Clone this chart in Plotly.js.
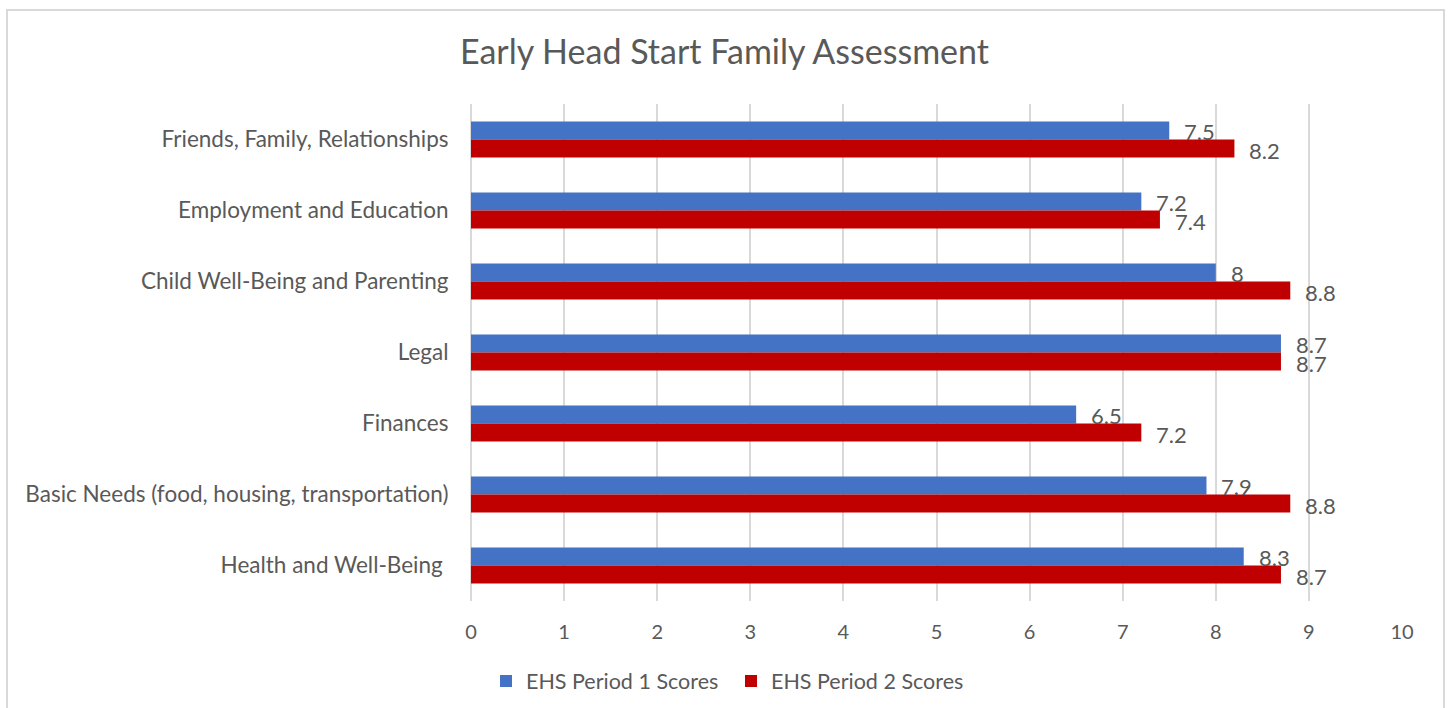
<!DOCTYPE html>
<html>
<head>
<meta charset="utf-8">
<script src="https://cdn.plot.ly/plotly-3.0.1.min.js"></script>
<style>html,body{margin:0;padding:0;background:#fff;}#chart{width:1449px;height:708px;}</style>
</head>
<body>
<div id="chart"></div>
<script>
// Categories, top to bottom as drawn
const categories = [
  "Friends, Family, Relationships",
  "Employment and Education",
  "Child Well-Being and Parenting",
  "Legal",
  "Finances",
  "Basic Needs (food, housing, transportation)",
  "Health and Well-Being "
];
const period1 = [7.5, 7.2, 8.0, 8.7, 6.5, 7.9, 8.3];
const period2 = [8.2, 7.4, 8.8, 8.7, 7.2, 8.8, 8.7];
const seriesNames = ["EHS Period 1 Scores", "EHS Period 2 Scores"];
const xTicks = [0, 1, 2, 3, 4, 5, 6, 7, 8, 9, 10];

const FONT = "Lato, 'Open Sans', sans-serif";
const TXT = "#595959";
const BLUE = "#4472C4";
const RED = "#C00000";

const W = 1449, H = 708;
const M = {l: 471, r: 47, t: 104, b: 107, autoexpand: false};
const pw = W - M.l - M.r, ph = H - M.t - M.b;
const px2x = p => (p - M.l) / pw;
const px2y = p => (H - M.b - p) / ph;

const traces = [
  {type: "bar", orientation: "h", name: seriesNames[0], y: categories, x: period1,
   marker: {color: BLUE}, hoverinfo: "x+name"},
  {type: "bar", orientation: "h", name: seriesNames[1], y: categories, x: period2,
   marker: {color: RED}, hoverinfo: "x+name"}
];

const annotations = [];
categories.forEach((c, i) => {
  annotations.push({x: period1[i], y: c, xref: "x", yref: "y", text: String(period1[i]),
    showarrow: false, xanchor: "left", yanchor: "middle", xshift: 13, yshift: 8,
    font: {family: FONT, size: 22, color: TXT}});
  annotations.push({x: period2[i], y: c, xref: "x", yref: "y", text: String(period2[i]),
    showarrow: false, xanchor: "left", yanchor: "middle", xshift: 13, yshift: -11,
    font: {family: FONT, size: 22, color: TXT}});
});

const layout = {
  width: W, height: H,
  margin: M,
  paper_bgcolor: "#ffffff", plot_bgcolor: "#ffffff",
  font: {family: FONT, color: TXT, size: 22},
  title: {text: "Early Head Start Family Assessment", x: 0.5, xanchor: "center",
          xref: "container", yref: "container", y: 1 - 52 / H, yanchor: "middle",
          font: {family: FONT, size: 34, color: TXT}},
  barmode: "group",
  bargap: 0.49,
  bargroupgap: 0,
  xaxis: {range: [0, 10], tickvals: xTicks, ticktext: xTicks.map(String), automargin: false,
          showgrid: true, gridcolor: "#d9d9d9", gridwidth: 1.5,
          zeroline: true, zerolinecolor: "#d9d9d9", zerolinewidth: 1.5,
          showline: false, ticks: "outside", ticklen: 13, tickcolor: "rgba(0,0,0,0)",
          tickfont: {family: FONT, size: 20, color: TXT}, fixedrange: true},
  yaxis: {type: "category", autorange: "reversed", showgrid: false, zeroline: false, automargin: false,
          showline: false, ticks: "outside", ticklen: 17, tickcolor: "rgba(0,0,0,0)",
          tickfont: {family: FONT, size: 22.5, color: TXT}, fixedrange: true},
  showlegend: true,
  legend: {orientation: "h", x: px2x(731), xanchor: "center", y: px2y(681), yanchor: "middle",
           font: {family: FONT, size: 21.5, color: TXT}, bgcolor: "rgba(0,0,0,0)",
           traceorder: "normal", itemwidth: 30, entrywidth: 200, entrywidthmode: "pixels"},
  annotations: annotations,
  shapes: [{type: "rect", xref: "paper", yref: "paper",
            x0: px2x(7), x1: px2x(1444), y0: px2y(715), y1: px2y(10),
            line: {color: "#d9d9d9", width: 2}, fillcolor: "rgba(0,0,0,0)", layer: "below"}]
};

Plotly.newPlot("chart", traces, layout, {displayModeBar: false, responsive: false});
</script>
</body>
</html>
